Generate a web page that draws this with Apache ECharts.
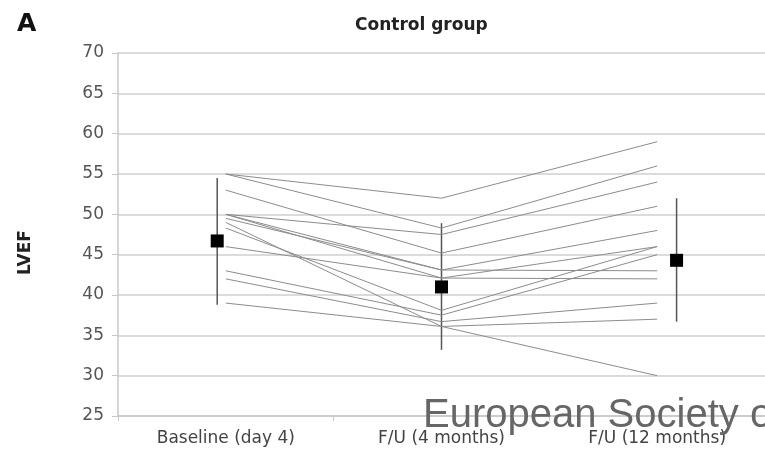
<!DOCTYPE html>
<html>
<head>
<meta charset="utf-8">
<script src="https://cdn.jsdelivr.net/npm/echarts@6/dist/echarts.min.js"></script>
<style>
  html, body { margin: 0; padding: 0; background: #fff; }
  #chart { width: 765px; height: 454px; }
</style>
</head>
<body>
<div id="chart"></div>
<script>
// 时间点
const categories = ['Baseline (day 4)', 'F/U (4 months)', 'F/U (12 months)']
// 每个病人的 LVEF（基线 / 4个月 / 12个月）
const baseline = [55, 55, 50, 53, 50, 50, 49.5, 46, 48.3, 49, 43, 42, 39]
const fu4 = [52, 48.3, 47.5, 45.2, 43.1, 42.1, 43.1, 42.1, 38.1, 36.1, 37.5, 36.7, 36.1]
const fu12 = [59, 56, 54, 51, 48, 46, 43, 42, 46, 30, 45, 39, 37]
// 均值 ± 标准差
const means = [46.7, 41.0, 44.3]
const errLow = [38.8, 33.2, 36.7]
const errHigh = [54.5, 48.9, 52.0]
// 均值点相对类目中心的偏移
const meanShift = [-0.04, 0, 0.09]

const fontFamily = 'DejaVu Sans'

let series = []
for (let i = 0; i < baseline.length; i++) {
    series.push({
        type: 'line',
        xAxisIndex: 1,
        data: [[1, baseline[i]], [2, fu4[i]], [3, fu12[i]]],
        symbol: 'none',
        silent: true,
        lineStyle: { color: '#8c8c8c', width: 1 }
    })
}
// 误差线
series.push({
    type: 'custom',
    xAxisIndex: 1,
    data: means.map((m, i) => [i + 1 + meanShift[i], errLow[i], errHigh[i]]),
    renderItem: function (params, api) {
        let lo = api.coord([api.value(0), api.value(1)])
        let hi = api.coord([api.value(0), api.value(2)])
        return {
            type: 'line',
            shape: { x1: lo[0], y1: lo[1], x2: hi[0], y2: hi[1] },
            style: { stroke: '#555', lineWidth: 1.5 }
        }
    },
    z: 3
})
// 均值
series.push({
    type: 'scatter',
    xAxisIndex: 1,
    data: means.map((m, i) => [i + 1 + meanShift[i], m]),
    symbol: 'rect',
    symbolSize: 13,
    itemStyle: { color: '#000', opacity: 1 },
    z: 4
})

let myChart = echarts.init(document.getElementById('chart'))
myChart.setOption({
    animation: false,
    backgroundColor: '#fff',
    title: [
        {
            text: 'A',
            left: 12,
            top: 7,
            textStyle: { fontFamily: fontFamily, fontWeight: 'bold', fontSize: 25, color: '#111' }
        },
        {
            text: 'Control group',
            left: 350,
            top: 12,
            textStyle: { fontFamily: fontFamily, fontWeight: 'bold', fontSize: 17, color: '#222' }
        }
    ],
    grid: { left: 118, top: 53, width: 648, height: 363, containLabel: false },
    xAxis: [
        {
            type: 'category',
            data: categories,
            boundaryGap: true,
            axisLine: { lineStyle: { color: '#c8c8c8', width: 1.5 } },
            axisTick: { show: true, length: 5, lineStyle: { color: '#c8c8c8' } },
            axisLabel: { fontFamily: fontFamily, fontSize: 17, color: '#444', margin: 14 }
        },
        {
            type: 'value',
            min: 0.5,
            max: 3.5,
            show: false
        }
    ],
    yAxis: {
        type: 'value',
        min: 25,
        max: 70,
        interval: 5,
        axisLine: { show: true, lineStyle: { color: '#c8c8c8', width: 1.5 } },
        axisTick: { show: true, length: 6, lineStyle: { color: '#c8c8c8' } },
        axisLabel: { fontFamily: fontFamily, fontSize: 17, color: '#555', margin: 14 },
        splitLine: { lineStyle: { color: '#cfcfcf', width: 1.5 } }
    },
    graphic: [
        {
            // y 轴标题
            type: 'text',
            x: 17,
            y: 275,
            rotation: Math.PI / 2,
            style: {
                text: 'LVEF',
                font: 'bold 17px "DejaVu Sans"',
                fill: '#222'
            }
        },
        {
            type: 'text',
            left: 423,
            top: 396,
            z: 100,
            style: {
                text: 'European Society of Cardiology',
                font: '40px "Liberation Sans"',
                fill: '#666'
            }
        }
    ],
    series: series
})
</script>
</body>
</html>
